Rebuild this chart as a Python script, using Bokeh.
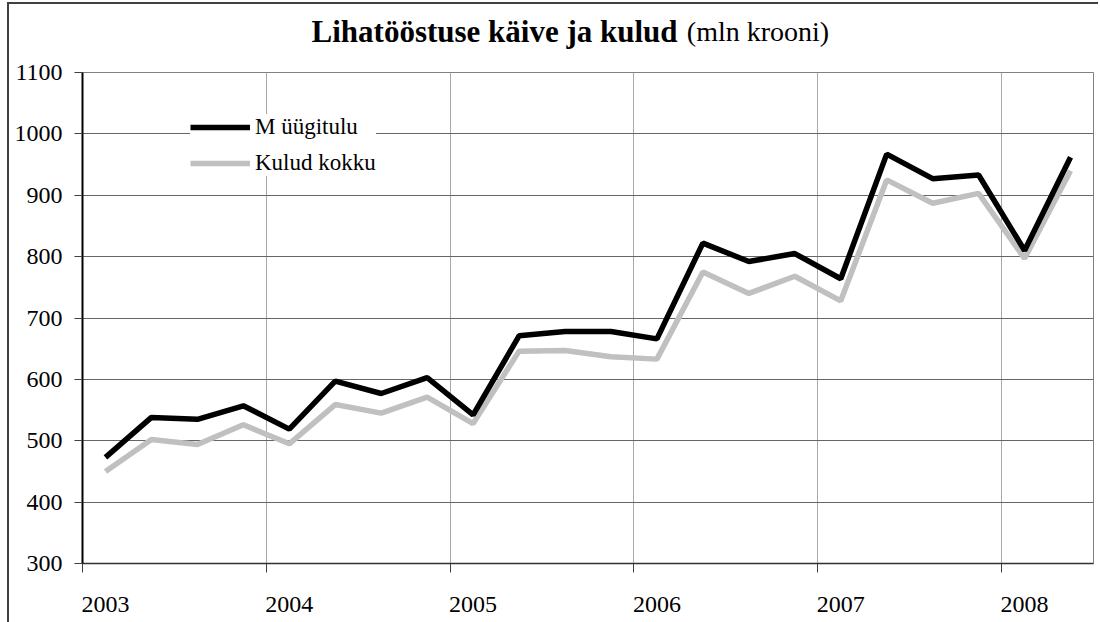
from bokeh.plotting import figure
from bokeh.layouts import column
from bokeh.models import FixedTicker, Legend, LegendItem, CustomJSTickFormatter
from bokeh.core.properties import value
from bokeh.embed import file_html
from bokeh.resources import INLINE

# ---- data ----
years = [2003, 2004, 2005, 2006, 2007, 2008]
quarters = ["2003 I", "2003 II", "2003 III", "2003 IV",
            "2004 I", "2004 II", "2004 III", "2004 IV",
            "2005 I", "2005 II", "2005 III", "2005 IV",
            "2006 I", "2006 II", "2006 III", "2006 IV",
            "2007 I", "2007 II", "2007 III", "2007 IV",
            "2008 I", "2008 II"]
sales = [473, 538, 535, 557, 519, 597, 577, 603, 542, 671, 678, 678,
         666, 822, 792, 805, 764, 967, 927, 933, 810, 962]
costs = [450, 502, 494, 526, 495, 559, 545, 571, 528, 646, 647, 637,
         633, 775, 740, 768, 728, 925, 887, 903, 797, 940]
y_ticks = [300, 400, 500, 600, 700, 800, 900, 1000, 1100]
series_names = ["M üügitulu", "Kulud kokku"]
title_bold = "Lihatööstuse käive ja kulud"
title_normal = "(mln krooni)"

# quarter positions on a continuous year scale (centre of each quarter)
roman = {"I": 0, "II": 1, "III": 2, "IV": 3}
xs = [int(q.split()[0]) + (roman[q.split()[1]] + 0.5) / 4 for q in quarters]

FONT = "Liberation Serif"
W = 1091

# ---- title strip (separate small figure so mixed bold/normal text is possible) ----
t = figure(width=W, height=54, output_backend="svg", toolbar_location=None,
           x_range=(9, 1098), y_range=(56, 4), min_border=0,
           x_axis_location=None, y_axis_location=None)
t.grid.visible = False
t.outline_line_color = None
t.styles = {"border-left": "2px solid #404040", "border-top": "2px solid #404040",
            "margin-left": "7px", "margin-top": "2px"}
t.text(x=[650], y=[30], text=[title_bold], text_font=value(FONT),
       text_font_size="31px", text_font_style="bold", text_align="right",
       text_baseline="alphabetic", text_color="black")
t.text(x=[660], y=[30], text=[title_normal], text_font=value(FONT),
       text_font_size="28px", text_align="left",
       text_baseline="alphabetic", text_color="black")

# ---- main chart ----
p = figure(width=W, height=566, output_backend="svg", toolbar_location=None,
           x_range=(2003, 2008.5), y_range=(300, 1100),
           min_border_left=73, min_border_right=7, min_border_top=16,
           min_border_bottom=59)
p.styles = {"border-left": "2px solid #404040", "margin-left": "7px"}
p.outline_line_color = "#808080"
p.outline_line_width = 1
p.background_fill_color = "white"
p.border_fill_color = "white"

# x axis: labels centred on first quarter of each year, ticks at year boundaries
label_pos = [y + 0.125 for y in years]
p.xaxis.ticker = FixedTicker(ticks=label_pos, minor_ticks=years)
p.xaxis.formatter = CustomJSTickFormatter(code="return String(Math.floor(tick));")
p.xaxis.major_tick_line_color = None
p.xaxis.major_tick_out = 0
p.xaxis.major_tick_in = 0
p.xaxis.minor_tick_out = 9
p.xaxis.minor_tick_in = 0
p.xaxis.minor_tick_line_color = "#404040"
p.xaxis.axis_line_color = "#303030"
p.xaxis.axis_line_width = 1.5
p.xaxis.major_label_standoff = 24
p.xaxis.major_label_text_font = FONT
p.xaxis.major_label_text_font_size = "24px"
p.xaxis.major_label_text_color = "black"

p.yaxis.ticker = FixedTicker(ticks=y_ticks)
p.yaxis.minor_tick_line_color = None
p.yaxis.major_tick_out = 8
p.yaxis.major_tick_in = 0
p.yaxis.major_tick_line_color = "#404040"
p.yaxis.axis_line_color = "black"
p.yaxis.axis_line_width = 2
p.yaxis.major_label_standoff = 12
p.yaxis.major_label_text_font = FONT
p.yaxis.major_label_text_font_size = "24px"
p.yaxis.major_label_text_color = "black"

p.xgrid.ticker = FixedTicker(ticks=years[1:])
p.xgrid.grid_line_color = "#a8a8a8"
p.xgrid.grid_line_width = 1
p.ygrid.grid_line_color = "#666666"
p.ygrid.grid_line_width = 1

r_cost = p.line(xs, costs, line_color="#c0c0c0", line_width=5.5)
r_sale = p.line(xs, sales, line_color="black", line_width=5.5)

legend = Legend(items=[LegendItem(label=series_names[0], renderers=[r_sale]),
                       LegendItem(label=series_names[1], renderers=[r_cost])],
                location=(108, 387), orientation="vertical",
                background_fill_color="white", background_fill_alpha=1,
                border_line_color=None, padding=10, spacing=10, margin=0,
                glyph_width=60, glyph_height=20, label_standoff=5,
                label_text_font=FONT, label_text_font_size="23px",
                label_text_color="black")
p.add_layout(legend, "center")

layout = column(t, p, spacing=0)
open("out.html", "w").write(file_html(layout, INLINE))
